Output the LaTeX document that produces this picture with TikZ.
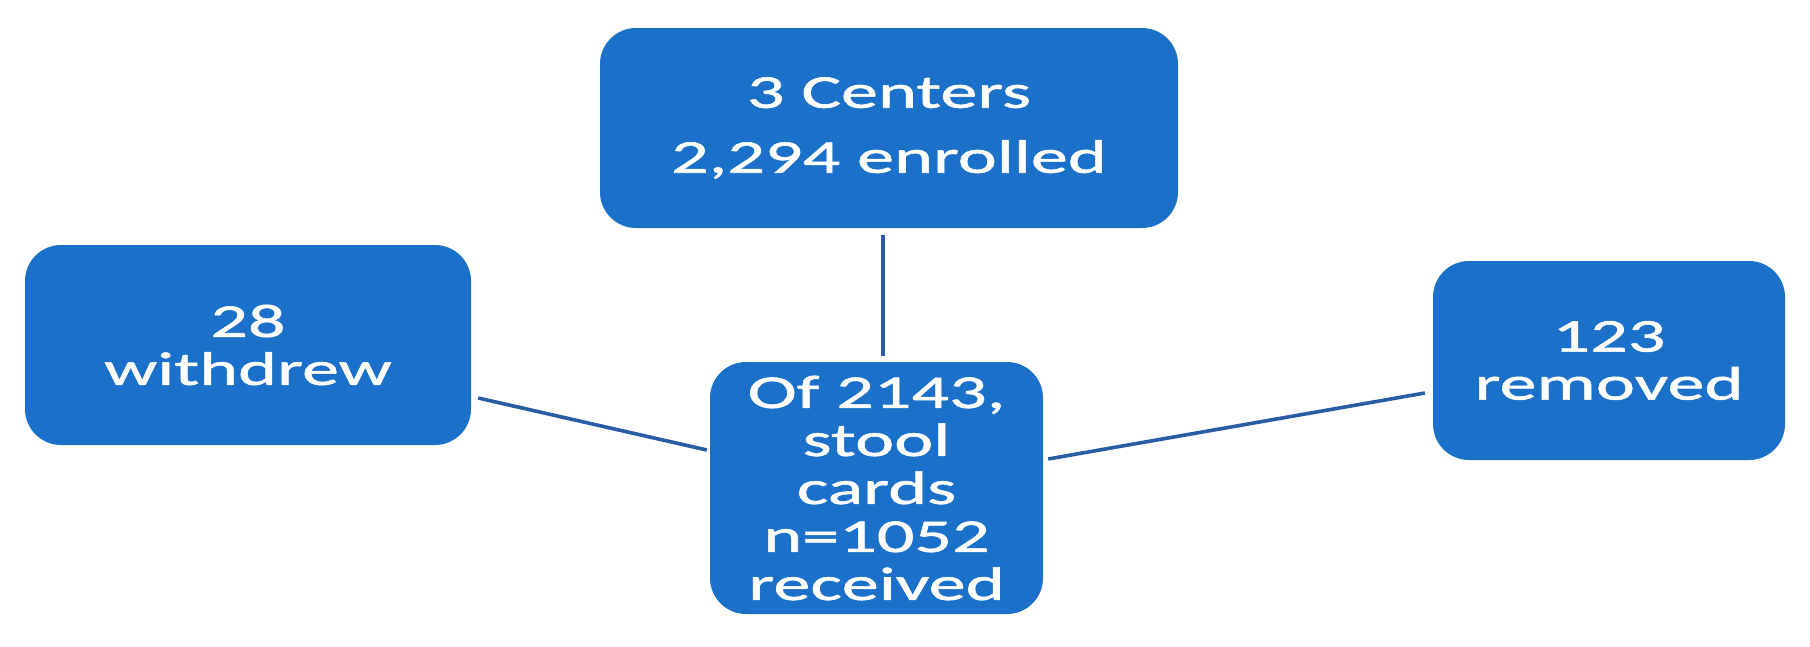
\documentclass[tikz,border=0pt]{standalone}
\usepackage{fontspec}
\setmainfont{Carlito}[FakeStretch=1.58,FakeBold=1.2]
\definecolor{boxblue}{HTML}{1B70C9}
\definecolor{lineblue}{HTML}{2A5CA6}
\begin{document}
\begin{tikzpicture}[x=1pt,y=-1pt,
  box/.style={draw=none, fill=boxblue, rounded corners=36pt, text=white, inner sep=0pt,
    align=center, font=\fontsize{47}{48}\selectfont},
  link/.style={draw=lineblue, line width=3.6pt}]
\useasboundingbox (0,0) rectangle (1810,646);
\fill[white] (0,0) rectangle (1810,646);
\node[box, minimum width=578pt, minimum height=200pt] (top) at (889,128) {3 Centers\\[17pt]2,294 enrolled};
\node[box, minimum width=333pt, minimum height=252pt] (mid) at (876.5,488) {Of 2143,\\stool\\cards\\n=1052\\received};
\node[box, minimum width=446pt, minimum height=200pt] (left) at (248,345) {28\\withdrew};
\node[box, minimum width=352pt, minimum height=199pt] (right) at (1609,360.5) {123\\removed};
\draw[link] ([shift={(-6,7)}]top.south) -- ([shift={(6.5,-6)}]mid.north);
\draw[link] ([shift={(7,53)}]left.east) -- ([shift={(-3,-38)}]mid.west);
\draw[link] ([shift={(5,-29)}]mid.east) -- ([shift={(-8,32.5)}]right.west);
\end{tikzpicture}
\end{document}
